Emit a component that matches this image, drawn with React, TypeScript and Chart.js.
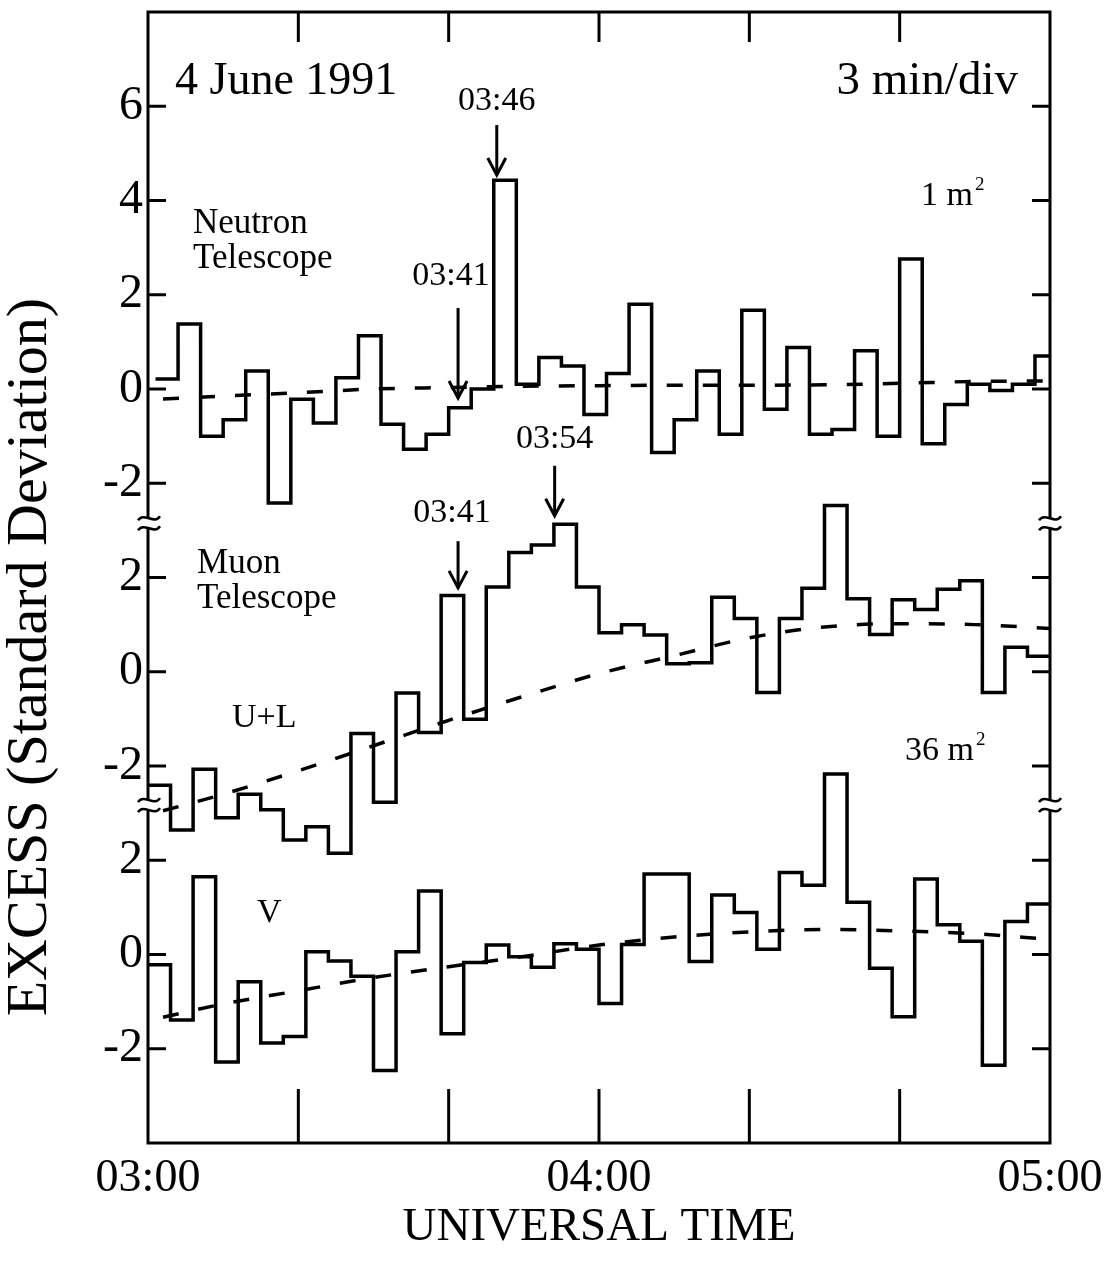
import React, { useEffect, useRef } from 'react';
import { Chart, registerables } from 'chart.js';

Chart.register(...registerables);

// ---------- data ----------
const BIN_MINUTES = 3;
const NEUTRON_START = 1; // minutes after 03:00
const MUON_START = 0;

const NEUTRON_OFFSET = 12;
const UL_OFFSET = 6;
const V_OFFSET = 0;

const neutronExcess = [
  0.21, 1.38, -1.0, -0.65, 0.38, -2.42, -0.22, -0.72, 0.24, 1.13,
  -0.75, -1.28, -0.96, -0.4, 0.0, 4.43, 0.1, 0.67, 0.49, -0.54,
  0.33, 1.8, -1.35, -0.65, 0.38, -0.96, 1.67, -0.43, 0.88, -0.96,
  -0.86, 0.81, -1.0, 2.76, -1.16, -0.33, 0.1, -0.03, 0.1, 0.7,
];
const muonULExcess = [
  -2.41, -3.36, -2.07, -3.1, -2.6, -2.93, -3.57, -3.29, -3.85, -1.31,
  -2.77, -0.45, -1.29, 1.62, -1.01, 1.8, 2.53, 2.69, 3.13, 1.8,
  0.83, 1.0, 0.78, 0.17, 0.19, 1.58, 1.13, -0.44, 1.13, 1.77,
  3.53, 1.55, 0.79, 1.53, 1.32, 1.75, 1.93, -0.44, 0.52, 0.33,
];
const muonVExcess = [
  -0.22, -1.39, 1.65, -2.28, -0.58, -1.88, -1.74, 0.06, -0.14, -0.46,
  -2.46, 0.06, 1.35, -1.68, -0.17, 0.2, -0.05, -0.27, 0.23, 0.11,
  -1.04, 0.21, 1.71, 1.71, -0.15, 1.26, 0.89, 0.11, 1.74, 1.47,
  3.83, 1.11, -0.29, -1.32, 1.6, 0.63, 0.28, -2.35, 0.7, 1.07,
];

const trendMinutes = [2, 10, 20, 30, 40, 50, 60, 70, 80, 90, 100, 110, 120];
const neutronTrend = [-0.21, -0.15, -0.08, 0.0, 0.03, 0.06, 0.07, 0.08, 0.08, 0.09, 0.12, 0.16, 0.17];
const muonULTrend = [-2.95, -2.6, -2.1, -1.57, -1.03, -0.52, -0.04, 0.34, 0.72, 0.95, 1.02, 1.0, 0.92];
const muonVTrend = [-1.33, -1.05, -0.77, -0.49, -0.26, -0.04, 0.2, 0.37, 0.48, 0.53, 0.5, 0.44, 0.32];

const xTickMinutes = [0, 20, 40, 60, 80, 100, 120];
const xTickLabels = ['03:00', '', '', '04:00', '', '', '05:00'];
const yTickValues = [-2, 0, 2, 4, 6, 8, 10, 12, 14, 16, 18];
const yTickLabels = ['-2', '0', '2', '-2', '0', '2', '-2', '0', '2', '4', '6'];
const breakValues = [9.15, 3.17];

const arrowLabels = ['03:46', '03:41', '03:54', '03:41'];
const arrowMinutes = [46.4, 41.25, 54.1, 41.25];
const arrowTails = [17.6, 13.72, 10.37, 8.77];
const arrowTips = [16.54, 11.81, 9.31, 7.78];
const arrowLabelY = [17.92, 14.21, 10.75, 9.18];
const arrowLabelDx = [0, -7, 0, -6];

const textItems = ['4 June 1991', '3 min/div', 'Neutron', 'Telescope', 'Muon', 'Telescope', 'U+L', 'V'];
const textX = [3.59, 115.74, 5.99, 5.99, 6.52, 6.52, 11.17, 14.5];
const textY = [18.26, 18.26, 15.31, 14.57, 8.1, 7.35, 4.83, 0.7];
const textSize = [46, 47, 35, 35, 35, 35, 34, 34];
const textAlign = ['left', 'right', 'left', 'left', 'left', 'left', 'left', 'left'];

const areaBase = ['1 m', '36 m'];
const areaX = [102.84, 100.71];
const areaY = [15.9, 4.13];

const Y_TITLE = 'EXCESS (Standard Deviation)';
const Y_TITLE_CENTER = 6.31;
const X_TITLE = 'UNIVERSAL TIME';

// ---------- helpers ----------
const FONT = '"Liberation Serif", "Times New Roman", serif';

function stepPoints(values: number[], start: number, offset: number) {
  const pts = values.map((v, i) => ({ x: start + i * BIN_MINUTES, y: v + offset }));
  pts.push({ x: start + values.length * BIN_MINUTES, y: values[values.length - 1] + offset });
  return pts;
}
function trendPoints(values: number[], offset: number) {
  return values.map((v, i) => ({ x: trendMinutes[i], y: v + offset }));
}

function seg(ctx: CanvasRenderingContext2D, x1: number, y1: number, x2: number, y2: number) {
  ctx.beginPath();
  ctx.moveTo(x1, y1);
  ctx.lineTo(x2, y2);
  ctx.stroke();
}

function drawBreak(ctx: CanvasRenderingContext2D, cx: number, cy: number) {
  ctx.save();
  ctx.fillStyle = '#fff';
  ctx.fillRect(cx - 4, cy - 5, 8, 10);
  ctx.lineWidth = 2.5;
  for (const dy of [-5, 5]) {
    ctx.beginPath();
    ctx.moveTo(cx - 11, cy + dy + 2);
    ctx.bezierCurveTo(cx - 5, cy + dy - 7, cx + 5, cy + dy + 7, cx + 11, cy + dy - 2);
    ctx.stroke();
  }
  ctx.restore();
}

const decorations = {
  id: 'decorations',
  afterDraw(chart: any) {
    const { ctx, chartArea } = chart;
    const { left, right, top, bottom } = chartArea;
    const xs = chart.scales.x;
    const ys = chart.scales.y;
    ctx.save();
    ctx.strokeStyle = '#000';
    ctx.fillStyle = '#000';
    ctx.lineWidth = 3;
    ctx.lineCap = 'butt';
    ctx.strokeRect(left, top, right - left, bottom - top);

    // y ticks (inward, both sides)
    yTickValues.forEach((v) => {
      const py = ys.getPixelForValue(v);
      seg(ctx, left, py, left + 18, py);
      seg(ctx, right, py, right - 18, py);
    });
    // x ticks (inward, bottom long, top short)
    xTickMinutes.forEach((m) => {
      if (m === 0 || m === 120) return;
      const px = xs.getPixelForValue(m);
      seg(ctx, px, bottom, px, bottom - 54);
      seg(ctx, px, top, px, top + 30);
    });
    // axis breaks
    breakValues.forEach((v) => {
      const py = ys.getPixelForValue(v);
      drawBreak(ctx, left + 1, py);
      drawBreak(ctx, right, py);
    });

    // arrows + time labels
    ctx.lineWidth = 3;
    ctx.textBaseline = 'alphabetic';
    ctx.textAlign = 'center';
    ctx.font = `34px ${FONT}`;
    arrowLabels.forEach((lab, i) => {
      const px = xs.getPixelForValue(arrowMinutes[i]);
      const y1 = ys.getPixelForValue(arrowTails[i]);
      const y2 = ys.getPixelForValue(arrowTips[i]);
      seg(ctx, px, y1, px, y2);
      ctx.beginPath();
      ctx.moveTo(px - 9, y2 - 17);
      ctx.lineTo(px, y2);
      ctx.lineTo(px + 9, y2 - 17);
      ctx.stroke();
      ctx.fillText(lab, px + arrowLabelDx[i], ys.getPixelForValue(arrowLabelY[i]));
    });

    // text annotations
    textItems.forEach((t, i) => {
      ctx.font = `${textSize[i]}px ${FONT}`;
      ctx.textAlign = textAlign[i] as CanvasTextAlign;
      ctx.fillText(t, xs.getPixelForValue(textX[i]), ys.getPixelForValue(textY[i]));
    });

    // area labels with superscript
    areaBase.forEach((t, i) => {
      const px = xs.getPixelForValue(areaX[i]);
      const py = ys.getPixelForValue(areaY[i]);
      ctx.textAlign = 'left';
      ctx.font = `34px ${FONT}`;
      ctx.fillText(t, px, py);
      const w = ctx.measureText(t).width;
      ctx.font = `19px ${FONT}`;
      ctx.fillText('2', px + w + 2, py - 15);
    });

    // y title
    ctx.save();
    ctx.translate(31, ys.getPixelForValue(Y_TITLE_CENTER));
    ctx.rotate(-Math.PI / 2);
    ctx.textAlign = 'center';
    ctx.textBaseline = 'middle';
    ctx.font = `58px ${FONT}`;
    ctx.fillText(Y_TITLE, 0, 0);
    ctx.restore();

    ctx.restore();
  },
};

export default function App() {
  const ref = useRef<HTMLCanvasElement | null>(null);
  useEffect(() => {
    if (!ref.current) return;
    const stepStyle = {
      borderColor: '#000',
      borderWidth: 3.5,
      pointRadius: 0,
      stepped: true,
      fill: false,
      borderJoinStyle: 'miter',
    };
    const dashStyle = {
      borderColor: '#000',
      borderWidth: 3.5,
      pointRadius: 0,
      borderDash: [16, 20],
      cubicInterpolationMode: 'monotone',
      fill: false,
    };
    const chart = new Chart(ref.current, {
      type: 'line',
      data: {
        datasets: [
          { label: 'Neutron', data: stepPoints(neutronExcess, NEUTRON_START, NEUTRON_OFFSET), ...stepStyle },
          { label: 'Muon U+L', data: stepPoints(muonULExcess, MUON_START, UL_OFFSET), ...stepStyle },
          { label: 'Muon V', data: stepPoints(muonVExcess, MUON_START, V_OFFSET), ...stepStyle },
          { label: 'Neutron trend', data: trendPoints(neutronTrend, NEUTRON_OFFSET), ...dashStyle },
          { label: 'U+L trend', data: trendPoints(muonULTrend, UL_OFFSET), ...dashStyle },
          { label: 'V trend', data: trendPoints(muonVTrend, V_OFFSET), ...dashStyle },
        ] as any,
      },
      options: {
        responsive: false,
        animation: false,
        devicePixelRatio: 1,
        layout: { padding: { left: 0, top: 12, right: 64, bottom: 0 } },
        plugins: { legend: { display: false }, tooltip: { enabled: false } },
        scales: {
          x: {
            type: 'linear',
            min: 0,
            max: 120,
            afterFit: (s: any) => { s.height = 118; s.paddingLeft = 0; s.paddingRight = 0; },
            afterBuildTicks: (s: any) => { s.ticks = xTickMinutes.map((v) => ({ value: v })); },
            ticks: {
              callback: (_v: any, i: number) => xTickLabels[i],
              font: { family: FONT, size: 46 },
              color: '#000',
              padding: 8,
              autoSkip: false,
              maxRotation: 0,
            },
            grid: { display: false, drawTicks: false },
            border: { display: false },
            title: {
              display: true,
              text: X_TITLE,
              font: { family: FONT, size: 47 },
              color: '#000',
              padding: { top: 0, bottom: 5 },
            },
          },
          y: {
            type: 'linear',
            min: -4,
            max: 20,
            afterFit: (s: any) => { s.width = 148; s.paddingTop = 0; s.paddingBottom = 0; },
            afterBuildTicks: (s: any) => { s.ticks = yTickValues.map((v) => ({ value: v })); },
            ticks: {
              callback: (_v: any, i: number) => yTickLabels[i],
              font: { family: FONT, size: 48 },
              color: '#000',
              padding: 5,
              autoSkip: false,
            },
            grid: { display: false, drawTicks: false },
            border: { display: false },
          },
        },
      } as any,
      plugins: [decorations],
    });
    return () => chart.destroy();
  }, []);
  return (
    <div style={{ position: 'absolute', left: 0, top: 0, width: 1114, height: 1261, background: '#fff' }}>
      <canvas ref={ref} width={1114} height={1261} style={{ width: 1114, height: 1261 }} />
    </div>
  );
}
